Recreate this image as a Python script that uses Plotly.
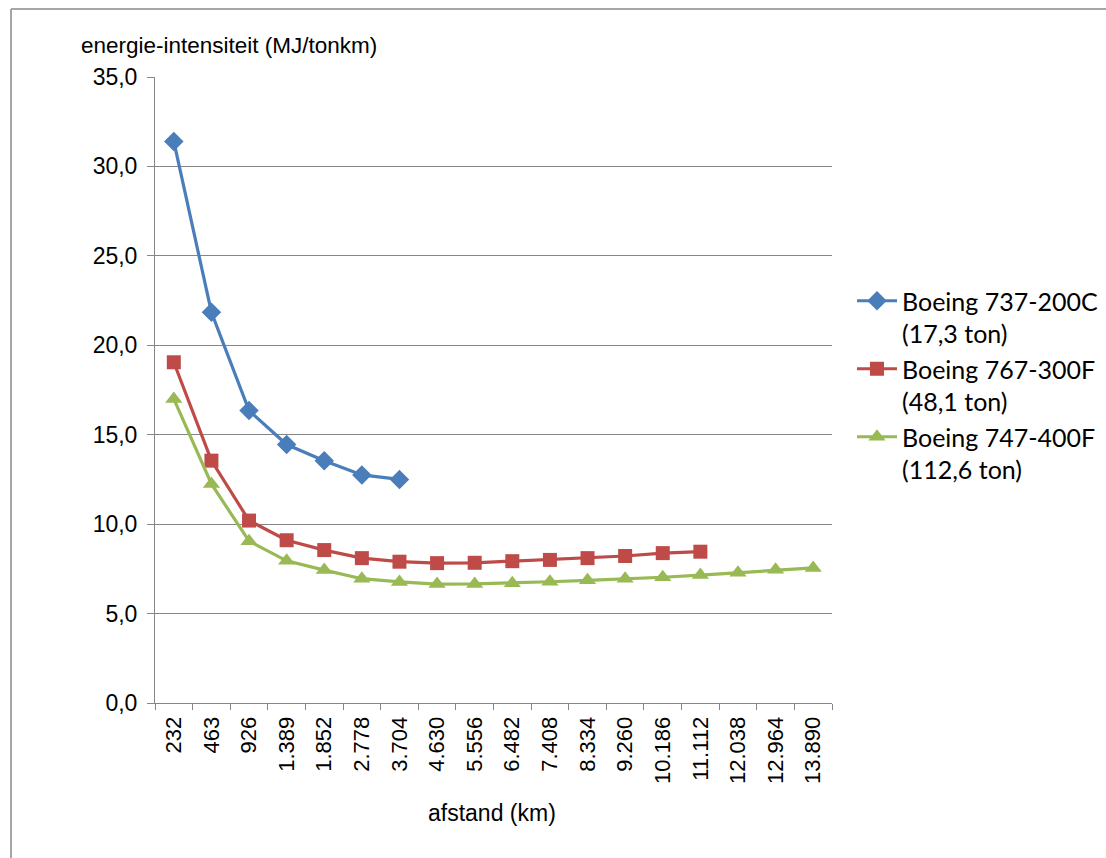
import plotly.graph_objects as go

categories = ["232", "463", "926", "1.389", "1.852", "2.778", "3.704", "4.630", "5.556",
              "6.482", "7.408", "8.334", "9.260", "10.186", "11.112", "12.038", "12.964", "13.890"]

b737 = [31.4, 21.85, 16.35, 14.45, 13.55, 12.75, 12.5]
b767 = [19.05, 13.55, 10.2, 9.1, 8.55, 8.1, 7.9, 7.82, 7.84, 7.93, 8.0, 8.1, 8.22, 8.38, 8.46]
b747 = [17.0, 12.25, 9.05, 7.95, 7.43, 6.95, 6.77, 6.65, 6.66, 6.7, 6.78, 6.86, 6.94, 7.03, 7.15, 7.28, 7.45, 7.55]

names = ["Boeing 737-200C<br>(17,3 ton)", "Boeing 767-300F<br>(48,1 ton)", "Boeing 747-400F<br>(112,6 ton)"]
colors = ["#4a7ebb", "#be4b48", "#98b954"]
symbols = ["diamond", "square", "triangle-up"]
msizes = [15, 14, 15]

y_ticks = [0, 5, 10, 15, 20, 25, 30, 35]
y_ticktext = ["0,0", "5,0", "10,0", "15,0", "20,0", "25,0", "30,0", "35,0"]

fig = go.Figure()
for vals, name, col, sym, ms in zip([b737, b767, b747], names, colors, symbols, msizes):
    fig.add_trace(go.Scatter(
        x=categories[:len(vals)], y=vals, name=name, mode="lines+markers",
        line=dict(color=col, width=3.2),
        marker=dict(symbol=sym, size=ms, color=col),
    ))

L, R, T, B = 155, 274, 77, 155
W, H = 1106, 858
pw, ph = W - L - R, H - T - B

def px(x):
    return (x - L) / pw

def py(y):
    return (H - B - y) / ph

fig.update_layout(
    width=W, height=H,
    margin=dict(l=L, r=R, t=T, b=B, pad=0, autoexpand=False),
    paper_bgcolor="white", plot_bgcolor="white",
    font=dict(family="Liberation Sans, Arial, sans-serif", size=23, color="black"),
    showlegend=True,
    legend=dict(
        x=px(852), y=py(278), xanchor="left", yanchor="top",
        font=dict(family="Lato, Carlito, sans-serif", size=25, color="black"),
        tracegroupgap=11, itemwidth=40, valign="top",
        bgcolor="rgba(0,0,0,0)",
    ),
    xaxis=dict(
        type="category", categoryorder="array", categoryarray=categories,
        range=[-0.5, len(categories) - 0.5],
        showline=True, linecolor="#868686", linewidth=1,
        ticks="outside", ticklen=6, tickcolor="#868686", tickson="boundaries",
        tickangle=-90, tickfont=dict(size=22), ticklabelstandoff=4,
        showgrid=False, zeroline=False,
    ),
    yaxis=dict(
        range=[0, 35], tickvals=y_ticks, ticktext=y_ticktext,
        showline=True, linecolor="#868686", linewidth=1,
        ticks="outside", ticklen=7, tickcolor="#868686",
        showgrid=True, gridcolor="#868686", gridwidth=1,
        zeroline=False, tickfont=dict(size=23), ticklabelstandoff=5,
    ),
    annotations=[
        dict(text="energie-intensiteit (MJ/tonkm)", x=px(79), y=py(45), xref="paper", yref="paper",
             xanchor="left", yanchor="middle", showarrow=False, font=dict(size=22.5)),
        dict(text="afstand (km)", x=px(492), y=py(813), xref="paper", yref="paper",
             xanchor="center", yanchor="middle", showarrow=False, font=dict(size=23)),
    ],
    shapes=[
        dict(type="line", xref="paper", yref="paper", x0=px(11), x1=px(11), y0=py(9), y1=py(900),
             line=dict(color="#a6a6a6", width=2)),
        dict(type="line", xref="paper", yref="paper", x0=px(11), x1=px(1200), y0=py(9), y1=py(9),
             line=dict(color="#a6a6a6", width=2)),
    ],
)

fig.write_html("out.html")
